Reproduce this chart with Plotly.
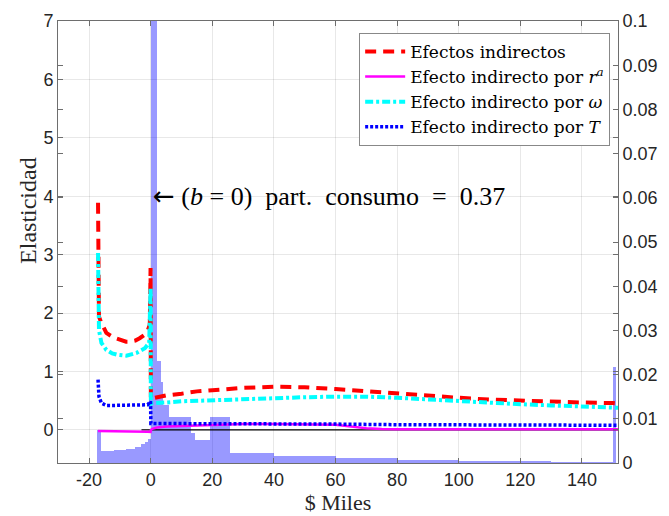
import plotly.graph_objects as go

# ---------------- data ----------------
# Efectos indirectos (red dashed)
x_tot = [-17.1, -17.0, -16.8, -16.0, -14.4, -12.0, -10.1, -8.0, -6.8, -5.0, -3.6, -2.0, -0.9, -0.3, -0.05,
         0.05, 0.5, 2, 5, 10, 15, 20, 30, 40, 45, 50, 60, 70, 80, 90, 100, 110, 120, 130, 140, 150, 151.7]
y_tot = [3.89, 3.2, 1.94, 1.83, 1.66, 1.58, 1.54, 1.51, 1.51, 1.53, 1.57, 1.63, 1.71, 1.80, 2.77,
         0.52, 0.54, 0.56, 0.59, 0.62, 0.66, 0.68, 0.72, 0.74, 0.74, 0.73, 0.70, 0.66, 0.62, 0.58, 0.55, 0.52, 0.50, 0.48, 0.47, 0.46, 0.45]

# Efecto indirecto por r^a (magenta solid)
x_ra = [-17.1, -12, -8, -4, -1, -0.05, 0.05, 0.5, 2, 5, 10, 20, 30, 40, 50, 55, 60, 65, 70, 75, 80, 100, 120, 140, 151.7]
y_ra = [-0.02, -0.02, -0.025, -0.03, -0.03, -0.035, 0.0, 0.02, 0.04, 0.06, 0.07, 0.09, 0.10, 0.10, 0.10, 0.10, 0.09, 0.06, 0.03, 0.015, 0.01, 0.01, 0.01, 0.01, 0.01]

# Efecto indirecto por omega (cyan dash-dot)
x_om = [-17.1, -17.0, -16.8, -16.0, -14.4, -12.5, -11.1, -7.9, -4.6, -1.9, -0.5, -0.05,
        0.05, 0.5, 2, 5, 10, 15, 20, 30, 40, 50, 60, 70, 80, 90, 100, 110, 120, 130, 140, 151.7]
y_om = [3.03, 2.4, 1.71, 1.49, 1.37, 1.31, 1.29, 1.27, 1.32, 1.40, 1.49, 2.43,
        0.45, 0.46, 0.46, 0.47, 0.49, 0.50, 0.51, 0.53, 0.54, 0.56, 0.57, 0.57, 0.55, 0.52, 0.49, 0.46, 0.44, 0.42, 0.40, 0.38]

# Efecto indirecto por T (blue dotted)
x_T = [-17.1, -17.0, -16.8, -16.0, -14.4, -12, -8, -4, -1, -0.3, -0.05,
       0.05, 1, 5, 10, 20, 40, 60, 80, 100, 120, 140, 151.7]
y_T = [0.86, 0.72, 0.57, 0.46, 0.42, 0.42, 0.42, 0.42, 0.43, 0.47, 0.49,
       0.11, 0.11, 0.11, 0.11, 0.10, 0.10, 0.10, 0.09, 0.09, 0.08, 0.08, 0.08]

# zero reference line
x_zero = [-3.0, 151.7]
y_zero = [0.0, 0.0]

# histogram (distribution of households, right axis): bin edges and heights
hist_left = [-17.4, -16.0, -12.0, -8.0, -5.0, -3.0, -2.0, -1.0, 0.0, 2.0, 3.2, 4.0, 6.0, 9.4, 13.2, 14.3, 19.2, 25.6,
             40.0, 60.0, 80.0, 100.0, 130.0, 150.0]
hist_right = [-16.0, -12.0, -8.0, -5.0, -3.0, -2.0, -1.0, 0.0, 2.0, 3.2, 4.0, 6.0, 9.4, 13.2, 14.3, 19.2, 25.6, 40.0,
              60.0, 80.0, 100.0, 130.0, 150.0, 151.0]
hist_h = [0.0075, 0.0028, 0.0029, 0.0031, 0.0036, 0.0042, 0.0048, 0.0055, 0.20, 0.023, 0.0184, 0.0131, 0.0105, 0.0105,
          0.0068, 0.0052, 0.0105, 0.0022, 0.0016, 0.0011, 0.0007, 0.0005, 0.0002, 0.0218]

x_ticks = [-20, 0, 20, 40, 60, 80, 100, 120, 140]
x_labels = ["-20", "0", "20", "40", "60", "80", "100", "120", "140"]
yl_ticks = [0, 1, 2, 3, 4, 5, 6, 7]
yr_ticks = [0, 0.01, 0.02, 0.03, 0.04, 0.05, 0.06, 0.07, 0.08, 0.09, 0.1]
yr_labels = ["0", "0.01", "0.02", "0.03", "0.04", "0.05", "0.06", "0.07", "0.08", "0.09", "0.1"]

# ---------------- figure ----------------
serif = "Liberation Serif"
sans = "Liberation Sans"
AX = "#6e6e6e"
TXT = "#262626"

fig = go.Figure()

centers = [(a + b) / 2 for a, b in zip(hist_left, hist_right)]
widths = [b - a for a, b in zip(hist_left, hist_right)]
fig.add_trace(go.Bar(x=centers, y=hist_h, width=widths, yaxis="y", xaxis="x",
                     marker=dict(color="rgba(0,0,255,0.4)", line=dict(width=0)),
                     showlegend=False, hoverinfo="skip"))

fig.add_trace(go.Scatter(x=x_zero, y=y_zero, mode="lines", yaxis="y2",
                         line=dict(color="black", width=1.2), showlegend=False))
fig.add_trace(go.Scatter(x=x_tot, y=y_tot, mode="lines", yaxis="y2", name="Efectos indirectos",
                         line=dict(color="#ff0000", width=4, dash="11px,7px")))
fig.add_trace(go.Scatter(x=x_ra, y=y_ra, mode="lines", yaxis="y2",
                         name="Efecto indirecto por <i>r</i><sup><i>a</i></sup>",
                         line=dict(color="#ff00ff", width=2.5)))
fig.add_trace(go.Scatter(x=x_om, y=y_om, mode="lines", yaxis="y2",
                         name="Efecto indirecto por <i>ω</i>",
                         line=dict(color="#00ffff", width=4, dash="8px,3px,3px,3px")))
fig.add_trace(go.Scatter(x=x_T, y=y_T, mode="lines", yaxis="y2",
                         name="Efecto indirecto por <i>T</i>",
                         line=dict(color="#0000ff", width=3.5, dash="3px,2px")))

fig.add_annotation(x=0, y=4.0, xref="x", yref="y2", xanchor="left", yanchor="middle",
                   text='<span style="font-family:DejaVu Sans">←</span> (<i>b</i> = 0)  part.  consumo  =  0.37',
                   showarrow=False, font=dict(family=serif, size=26, color="black"))

fig.add_annotation(x=-0.054, y=0.572, xref="paper", yref="paper", xanchor="center", yanchor="middle",
                   text="Elasticidad", textangle=-90, showarrow=False,
                   font=dict(family=serif, size=24, color=TXT))

fig.update_layout(
    width=669, height=516,
    margin=dict(l=58, r=51, t=21, b=53),
    paper_bgcolor="white", plot_bgcolor="white",
    barmode="overlay", bargap=0,
    xaxis=dict(range=[-30.1, 151.7], tickvals=x_ticks, ticktext=x_labels, ticks="inside", ticklen=5,
               tickcolor=AX, showline=True, linecolor=AX, linewidth=1, mirror="ticks",
               showgrid=True, gridcolor="rgba(0,0,0,0.09)", zeroline=False, automargin=False,
               tickfont=dict(family=sans, size=18, color=TXT),
               title=dict(text="$ Miles", font=dict(family=serif, size=22, color=TXT), standoff=3)),
    yaxis=dict(range=[0, 0.1], side="right", tickvals=yr_ticks, ticktext=yr_labels,
               ticks="inside", ticklen=5, tickcolor=AX, showline=True, linecolor=AX, linewidth=1,
               mirror="ticks", showgrid=False, zeroline=False, automargin=False,
               tickfont=dict(family=sans, size=18, color=TXT)),
    yaxis2=dict(range=[-0.566, 7], side="left", overlaying="y", tickvals=yl_ticks,
                ticks="inside", ticklen=5, tickcolor=AX, showline=True, linecolor=AX, linewidth=1,
                mirror="ticks", showgrid=True, gridcolor="rgba(0,0,0,0.09)", zeroline=False, automargin=False,
                tickfont=dict(family=sans, size=18, color=TXT)),
    legend=dict(x=0.986, y=0.973, xanchor="right", yanchor="top", bgcolor="white",
                bordercolor="#888888", borderwidth=1, font=dict(family="DejaVu Serif", size=17, color="black"),
                tracegroupgap=0, itemwidth=40),
)

fig.write_html("out.html")
